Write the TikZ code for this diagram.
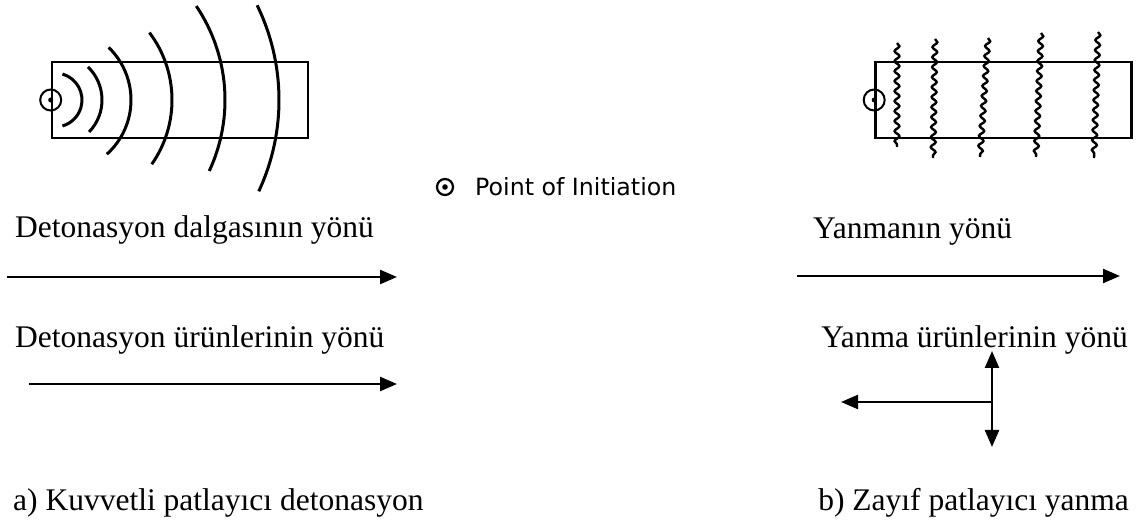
\documentclass[tikz,border=0pt]{standalone}
\usepackage{fontspec}
\setmainfont{Liberation Serif}
\newfontfamily\legendfont{DejaVu Sans}
\usepackage{tikz}
\usetikzlibrary{arrows.meta, positioning, decorations.pathmorphing}
\tikzstyle{charge} = [rectangle, draw=black, line width=2.6pt, minimum width=256pt, minimum height=76pt, inner sep=0pt]
\tikzstyle{init} = [circle, draw=black, line width=2pt, minimum size=21pt, inner sep=0pt]
\tikzstyle{legmark} = [circle, draw=black, line width=2.2pt, minimum size=16pt, inner sep=0pt]
\tikzstyle{caption} = [font=\fontsize{31.5}{38}\selectfont, inner sep=0pt]
\tikzstyle{arrowline} = [line width=2.4pt, -{Triangle[length=17pt,width=14pt]}]
\tikzstyle{front} = [line width=3pt]
\tikzstyle{flame} = [line width=2.4pt, decorate, decoration={snake, segment length=10pt, amplitude=2.4pt}]

\begin{document}
\begin{tikzpicture}[x=1pt, y=-1pt]
            \useasboundingbox (0,0) rectangle (1146,526);

            % Charges
            \node (strong) [charge] at (180,100) {};
            \node (weak) [charge] at (1003.5,100) {};
            \node (strinit) [init] at (strong.west) {};
            \node (weakinit) [init] at (weak.west) {};
            \fill (strinit) circle (2.5pt);
            \fill (weakinit) circle (2.5pt);

            % Detonation fronts
            \foreach \cx/\r/\lo/\hi in {55/27/-74/74, 56/46/-46/44, 58/73/-46/48, 60/112/-37/35, 57/168/-34/25, 63/216/-26/25}
                \draw [front] (\cx,100) ++(\lo:\r) arc[start angle=\lo, end angle=\hi, radius=\r];

            % Burning fronts
            \foreach \xt/\yt/\xb/\yb in {897/43/897/147, 935/39/933/158, 988/38/980/157, 1041/33/1036/157, 1098/32/1094/158}
                \draw [flame] (\xt,\yt) -- (\xb,\yb);

            % Legend
            \node (legsym) [legmark] at (445,187) {};
            \fill (legsym) circle (2.8pt);
            \node (legend) [anchor=base west, inner sep=0pt, font=\legendfont\fontsize{23.7}{28}\selectfont] at (475,196) {Point of Initiation};

            % Nodes
            \node (detwave) [caption, anchor=base west] at (15,238) {Detonasyon dalgasının yönü};
            \node (detprod) [caption, anchor=base west] at (15,348) {Detonasyon ürünlerinin yönü};
            \node (strlabel) [caption, anchor=base west] at (13,510) {a) Kuvvetli patlayıcı detonasyon};
            \node (burnwave) [caption, anchor=base west] at (813,239) {Yanmanın yönü};
            \node (burnprod) [caption, anchor=base east] at (1128,348) {Yanma ürünlerinin yönü};
            \node (weaklabel) [caption, anchor=base east] at (1129,510) {b) Zayıf patlayıcı yanma};

            \coordinate (dwa) at (7,277);
            \coordinate (dwb) at (397,277);
            \coordinate (dpa) at (29,384);
            \coordinate (dpb) at (397,384);
            \coordinate (bwa) at (797,276);
            \coordinate (bwb) at (1120,276);
            \coordinate (bpc) at (992,402);
            \coordinate (bpl) at (841,402);
            \coordinate (bpu) at (992,351);
            \coordinate (bpd) at (992,447);

            % Edges
            \draw [arrowline] (dwa) -- (dwb);
            \draw [arrowline] (dpa) -- (dpb);
            \draw [arrowline] (bwa) -- (bwb);
            \draw [arrowline] (bpc) -- (bpl);
            \draw [arrowline] (bpc) -- (bpu);
            \draw [arrowline] (bpc) -- (bpd);

        \end{tikzpicture}
\end{document}
